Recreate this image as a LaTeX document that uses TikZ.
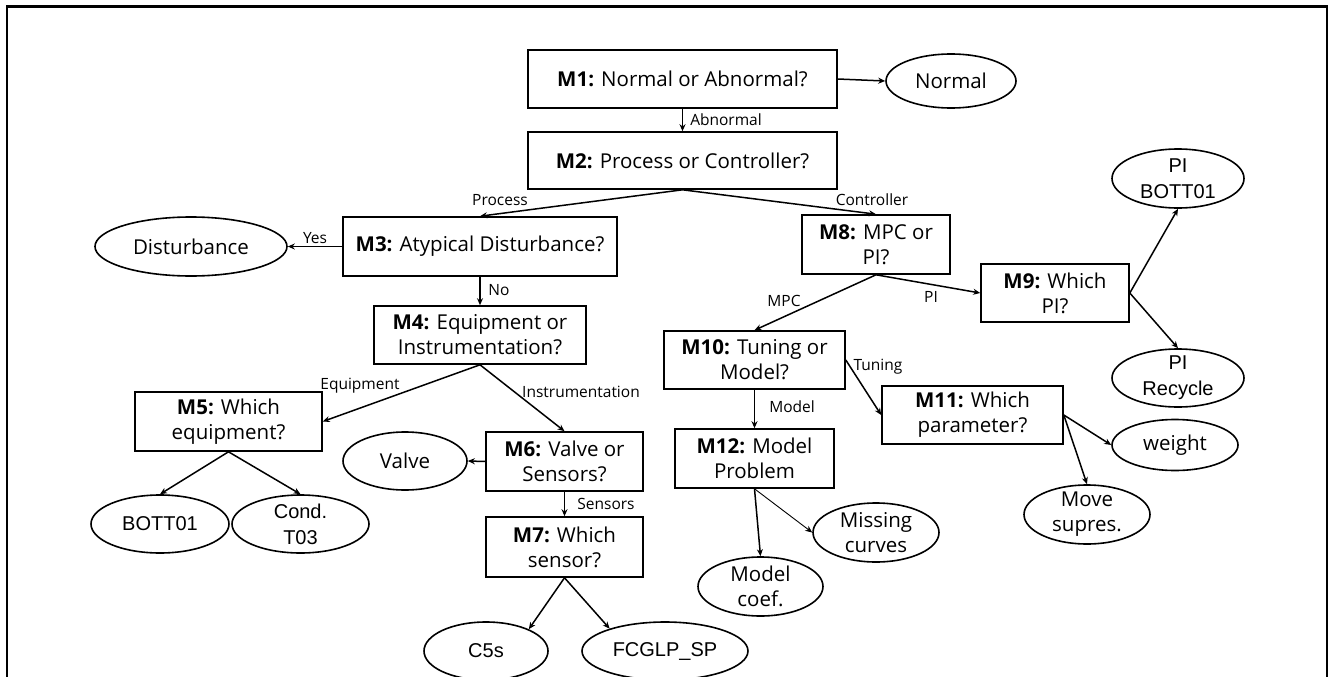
\documentclass[tikz,border=0pt]{standalone}
\usepackage{fontspec}
\setmainfont{Open Sans}
\newfontfamily\arialf{Liberation Sans}
\usetikzlibrary{shapes.geometric,arrows.meta}
\begin{document}
\begin{tikzpicture}[x=1pt,y=-1pt,
 box/.style={draw, line width=1.6pt, rectangle, inner sep=0pt, align=center, font=\fontsize{20.5}{25}\selectfont},
 ell/.style={draw, line width=1.6pt, ellipse, inner sep=0pt},
 etxt/.style={align=center, inner sep=0pt, font=\fontsize{20.5}{25}\selectfont},
 atxt/.style={align=center, inner sep=0pt, font=\arialf\fontsize{20}{26}\selectfont},
 lab/.style={inner sep=0pt, font=\fontsize{15.5}{18}\selectfont},
 arr/.style={-{Stealth[length=7pt,width=6pt]}, line width=1.5pt},
 thinarr/.style={-{Stealth[length=7pt,width=6pt]}, line width=0.9pt},
]
\useasboundingbox (0,0) rectangle (1330,677);
\draw[line width=2.2pt] (7,700) -- (7,6.5) -- (1327,6.5) -- (1327,700);

% boxes
\node[box, minimum width=309pt, minimum height=58pt] (m1) at (682.5,79) {\textbf{M1:} Normal or Abnormal?};
\node[box, minimum width=309pt, minimum height=57pt] (m2) at (682.5,160.5) {\textbf{M2:} Process or Controller?};
\node[box, minimum width=274pt, minimum height=59pt] (m3) at (480,246.5) {\textbf{M3:} Atypical Disturbance?};
\node[box, minimum width=212pt, minimum height=58pt] (m4) at (480,335) {\textbf{M4:} Equipment or\\Instrumentation?};
\node[box, minimum width=187pt, minimum height=59pt] (m5) at (228.5,421.5) {\textbf{M5:} Which\\equipment?};
\node[box, minimum width=157pt, minimum height=59pt] (m6) at (564.5,461.5) {\textbf{M6:} Valve or\\Sensors?};
\node[box, minimum width=157pt, minimum height=60pt] (m7) at (564.5,547) {\textbf{M7:} Which\\sensor?};
\node[box, minimum width=148pt, minimum height=59pt] (m8) at (876,244.5) {\textbf{M8:} MPC or\\PI?};
\node[box, minimum width=148pt, minimum height=58pt] (m9) at (1055,293) {\textbf{M9:} Which\\PI?};
\node[box, minimum width=181pt, minimum height=58pt] (m10) at (754.5,360) {\textbf{M10:} Tuning or\\Model?};
\node[box, minimum width=181pt, minimum height=58pt] (m11) at (972.5,415) {\textbf{M11:} Which\\parameter?};
\node[box, minimum width=159pt, minimum height=59pt] (m12) at (754.5,458.5) {\textbf{M12:} Model\\Problem};

% ellipses
\node[ell, minimum width=130pt, minimum height=54pt, label={[etxt]center:Normal}] (normal) at (951,81) {};
\node[ell, minimum width=192pt, minimum height=59pt, label={[etxt]center:Disturbance}] (dist) at (191,246.5) {};
\node[ell, minimum width=124pt, minimum height=58pt, label={[etxt]center:Valve}] (valve) at (405,461) {};
\node[ell, minimum width=138pt, minimum height=58pt, label={[atxt]center:BOTT01}] (bott) at (160,524) {};
\node[ell, minimum width=137pt, minimum height=58pt, label={[atxt]center:Cond.\\T03}] (cond) at (300.5,524) {};
\node[ell, minimum width=124pt, minimum height=58pt, label={[atxt]center:C5s}] (c5s) at (486,651) {};
\node[ell, minimum width=166pt, minimum height=58pt, label={[atxt]center:FCGLP\_SP}] (fcg) at (665,651) {};
\node[ell, minimum width=132pt, minimum height=59pt, label={[atxt]center:PI\\BOTT01}] (pib) at (1178,178.5) {};
\node[ell, minimum width=132pt, minimum height=58pt, label={[atxt]center:PI\\Recycle}] (pir) at (1178,378) {};
\node[ell, minimum width=126pt, minimum height=51pt, label={[etxt]center:weight}] (weight) at (1175,445) {};
\node[ell, minimum width=126pt, minimum height=59pt, label={[etxt]center:Move\\supres.}] (move) at (1087,514.5) {};
\node[ell, minimum width=125pt, minimum height=59pt, label={[etxt]center:Model\\coef.}] (mcoef) at (760.5,586.5) {};
\node[ell, minimum width=126pt, minimum height=59pt, label={[etxt]center:Missing\\curves}] (miss) at (876,532.5) {};

% connectors
\draw[arr] (m1.east) -- (normal.west);
\draw[arr] (m1.south) -- (m2.north);
\draw[arr] (m2.south) -- (m3.north);
\draw[arr] (m2.south) -- (m8.north);
\draw[arr] (m3.west) -- (dist.east);
\draw[arr] (m3.south) -- (m4.north);
\draw[arr] (m4.south) -- (m5.east);
\draw[arr] (m4.south) -- (m6.north);
\draw[arr] (m5.south) -- (bott.north);
\draw[arr] (m5.south) -- (cond.north);
\draw[arr] (m6.west) -- (valve.east);
\draw[arr] (m6.south) -- (m7.north);
\draw[arr] (m7.south) -- (c5s.27);
\draw[arr] (m7.south) -- (fcg.158);
\draw[arr] (m8.south) -- (m10.north);
\draw[arr] (m8.south) -- (m9.west);
\draw[arr] (m9.east) -- (pib.south);
\draw[arr] (m9.east) -- (pir.north);
\draw[arr] (m10.east) -- (m11.west);
\draw[arr] (m10.south) -- (m12.north);
\draw[arr] (m12.south) -- (mcoef.north);
\draw[thinarr] (m12.south) -- (miss.west);
\draw[arr] (m11.east) -- (weight.west);
\draw[arr] (m11.east) -- (move.north);

% connector labels
\node[lab] (lAbn) at (726,120) {Abnormal};
\node[lab] (lProc) at (500,200) {Process};
\node[lab] (lCtrl) at (872,200) {Controller};
\node[lab] (lYes) at (315,238) {Yes};
\node[lab] (lNo) at (499,290) {No};
\node[lab] (lEq) at (360,386) {Equipment};
\node[lab] (lIns) at (581,392) {Instrumentation};
\node[lab] (lSen) at (606,504) {Sensors};
\node[lab] (lMPC) at (784,301) {MPC};
\node[lab] (lPI) at (931,297) {PI};
\node[lab] (lTun) at (878,367) {Tuning};
\node[lab] (lMod) at (792,407) {Model};
\end{tikzpicture}
\end{document}
